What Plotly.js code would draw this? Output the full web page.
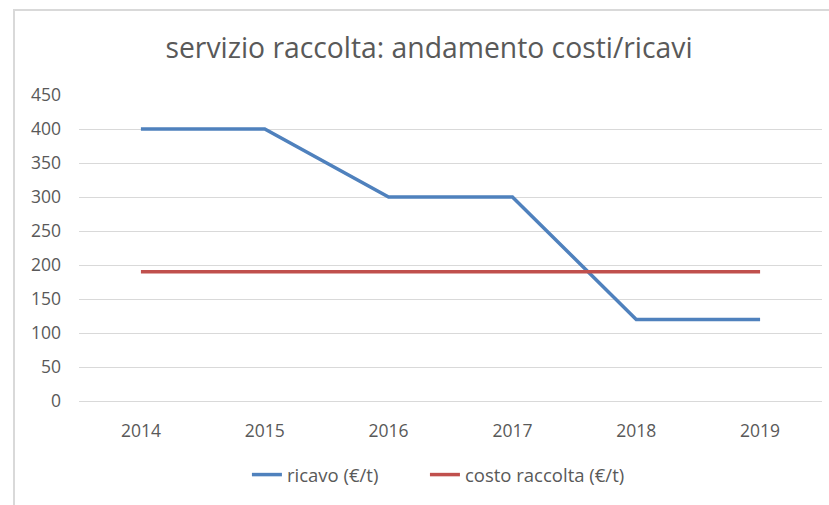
<!DOCTYPE html>
<html>
<head>
<meta charset="utf-8">
<script src="https://cdn.plot.ly/plotly-3.0.1.min.js"></script>
<style>
html,body{margin:0;padding:0;background:#fff;}
#wrap{position:relative;width:829px;height:505px;}
#chart{width:829px;height:505px;}
#frame{position:absolute;left:13px;top:9px;width:830px;height:510px;border-left:2px solid #d9d9d9;border-top:2px solid #d9d9d9;pointer-events:none;}
</style>
</head>
<body>
<div id="wrap"><div id="chart"></div><div id="frame"></div></div>
<script>
const years = ['2014','2015','2016','2017','2018','2019'];
const ricavo = [400, 400, 300, 300, 120, 120];
const costoRaccolta = [190, 190, 190, 190, 190, 190];
const yTicks = [0, 50, 100, 150, 200, 250, 300, 350, 400, 450];

const font = "Open Sans, Noto Sans, sans-serif";
const traces = [
  {x: years, y: ricavo, name: 'ricavo (€/t)', type: 'scatter', mode: 'lines',
   line: {color: '#4f81bd', width: 3.5}, legend: 'legend'},
  {x: years, y: costoRaccolta, name: 'costo raccolta (€/t)', type: 'scatter', mode: 'lines',
   line: {color: '#c0504d', width: 3.5}, legend: 'legend2'}
];
const legendCommon = {orientation: 'h', xanchor: 'left', y: -0.242, yanchor: 'middle',
  font: {family: font, size: 18.5, color: '#595959'}, itemwidth: 30, bgcolor: 'rgba(0,0,0,0)'};
const layout = {
  width: 829, height: 505,
  margin: {l: 79, r: 7, t: 95, b: 104},
  paper_bgcolor: '#fff', plot_bgcolor: '#fff',
  title: {text: 'servizio raccolta: andamento costi/ricavi', x: 0.5175, xanchor: 'center', y: 0.905, yanchor: 'middle',
          font: {family: font, size: 28.3, color: '#595959'}},
  xaxis: {type: 'category', range: [-0.5, 5.5], showgrid: false, zeroline: false, showline: false,
          ticks: '', tickfont: {family: font, size: 17.5, color: '#595959'}, ticklabelstandoff: 17},
  yaxis: {range: [0, 450], tickvals: yTicks, showgrid: true, gridcolor: '#d9d9d9', gridwidth: 1,
          zeroline: true, zerolinecolor: '#d9d9d9', zerolinewidth: 1, showline: false, ticks: '',
          tickfont: {family: font, size: 17.5, color: '#595959'}, ticklabelstandoff: 17},
  showlegend: true,
  legend: Object.assign({}, legendCommon, {x: 0.226}),
  legend2: Object.assign({}, legendCommon, {x: 0.4656})
};
Plotly.newPlot('chart', traces, layout, {displayModeBar: false, staticPlot: true});
</script>
</body>
</html>
